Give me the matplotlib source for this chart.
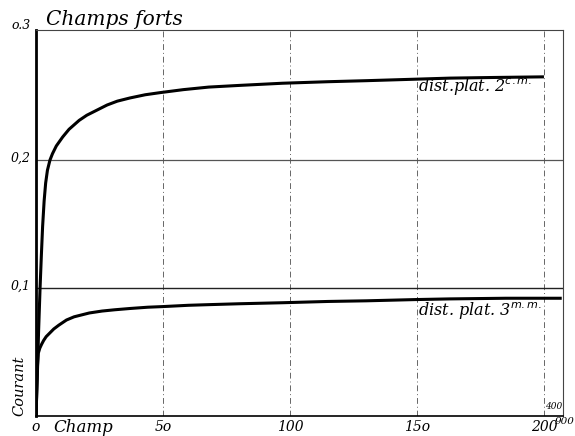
import matplotlib
matplotlib.use("Agg")
import matplotlib.pyplot as plt

# ---- data ----
field_2cm = [0, 0.5, 1.0, 1.6, 2.1, 2.6, 3.2, 3.8, 4.5, 5.5, 6.5, 8, 10.5, 13, 17, 20, 24, 28,
             32, 37, 43, 49, 58, 68, 80, 97, 115, 130, 150, 163, 180, 200]
current_2cm = [0, 0.030, 0.065, 0.100, 0.125, 0.148, 0.168, 0.182, 0.192, 0.200, 0.205, 0.211,
               0.218, 0.224, 0.231, 0.235, 0.239, 0.243, 0.246, 0.2485, 0.251, 0.2527, 0.2550,
               0.2570, 0.2583, 0.2600, 0.2612, 0.2620, 0.2632, 0.2640, 0.2645, 0.2650]

field_3mm = [0, 0.3, 0.6, 0.9, 1.5, 2.2, 3, 4, 5.5, 7, 9, 12, 15, 18, 21, 26, 31, 37, 44, 50,
             60, 68, 80, 97, 115, 130, 150, 163, 185, 207]
current_3mm = [0, 0.020, 0.040, 0.049, 0.053, 0.056, 0.059, 0.062, 0.065, 0.068, 0.071, 0.075,
               0.0775, 0.0790, 0.0805, 0.0820, 0.0830, 0.0840, 0.0850, 0.0855, 0.0865, 0.0870,
               0.0877, 0.0885, 0.0895, 0.0900, 0.0910, 0.0915, 0.0920, 0.0920]

x_ticks = [0, 50, 100, 150, 200]
x_tick_labels = ["o", "5o", "100", "15o", "200"]
y_ticks = [0.1, 0.2, 0.3]
y_tick_labels = ["0,1", "0,2", "o.3"]
label_2cm = r"dist.plat. 2$^{c.m.}$"
label_3mm = r"dist. plat. 3$^{m.m.}$"
title = "Champs forts"
xlabel = "Champ"
ylabel = "Courant"

# ---- figure ----
fig = plt.figure(figsize=(5.75, 4.36), dpi=100)
ax = fig.add_axes([36 / 575, 20 / 436, (563 - 36) / 575, (416 - 30) / 436])
ax.set_xlim(0, 207.5)
ax.set_ylim(0, 0.3016)

font = dict(family="DejaVu Serif", style="italic")

# grid
for xv in x_ticks[1:]:
    ax.axvline(xv, color="#666666", lw=0.7, ls=(0, (6, 3, 1, 3)), zorder=1)
ax.axhline(0.1, color="#222222", lw=1.0, zorder=1)
ax.axhline(0.2, color="#555555", lw=0.9, zorder=1)

# spines
for s in ["top", "right"]:
    ax.spines[s].set_linewidth(0.8)
    ax.spines[s].set_color("#444444")
ax.spines["left"].set_linewidth(2.0)
ax.spines["bottom"].set_linewidth(1.2)
ax.set_xticks([])
ax.set_yticks([])

# curves
ax.plot(field_2cm, current_2cm, color="black", lw=2.2, zorder=3,
        solid_capstyle="butt", solid_joinstyle="round")
ax.plot(field_3mm, current_3mm, color="black", lw=2.2, zorder=3,
        solid_capstyle="butt", solid_joinstyle="round")

# tick labels
for xv, lab in zip(x_ticks, x_tick_labels):
    ax.annotate(lab, (xv, 0), xytext=(0, -8), textcoords="offset points",
                ha="center", va="center", fontsize=10, **font)
ax.annotate("900", (200, 0), xytext=(15, -4), textcoords="offset points",
            ha="center", va="center", fontsize=7.5, **font)
ax.annotate("400", (207.5, 0), xytext=(-7, 7), textcoords="offset points",
            ha="center", va="center", fontsize=6.5, **font)
for yv, lab in zip(y_ticks, y_tick_labels):
    dy = 5 if yv == 0.3 else 1
    ax.annotate(lab, (0, yv), xytext=(-4, dy), textcoords="offset points",
                ha="right", va="center", fontsize=9, **font)

ax.annotate(xlabel, (7, 0), xytext=(0, -8), textcoords="offset points",
            ha="left", va="center", fontsize=12, **font)
ax.annotate(ylabel, (0, 0), xytext=(-12, 22), textcoords="offset points",
            ha="center", va="center", rotation=90, fontsize=10.5, **font)
ax.annotate(title, (4, 0.3016), xytext=(0, 1), textcoords="offset points",
            ha="left", va="bottom", fontsize=14.5, **font)

ax.text(150.5, 0.2575, label_2cm, ha="left", va="center", fontsize=11.5, **font)
ax.text(150.5, 0.0825, label_3mm, ha="left", va="center", fontsize=11.5, **font)

fig.savefig("out.png", dpi=100)
